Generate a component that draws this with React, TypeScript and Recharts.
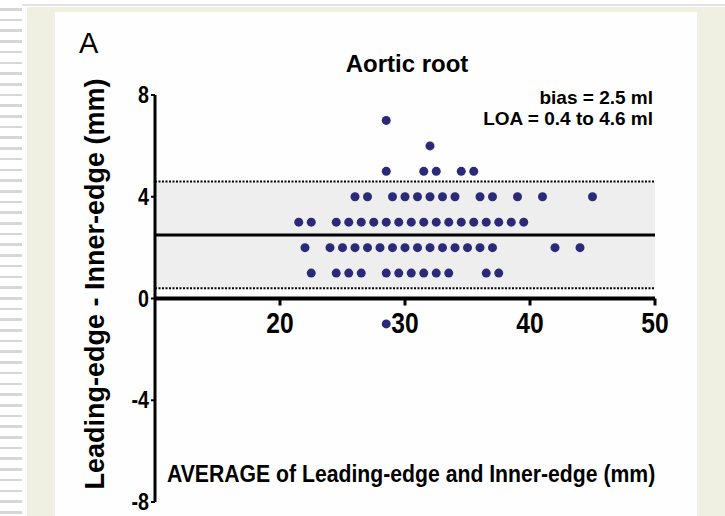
import type { ReactNode } from "react";
import {
	ScatterChart,
	Scatter,
	XAxis,
	YAxis,
	ReferenceArea,
	ReferenceLine,
	ReferenceDot,
} from "recharts";

// averages (mm) grouped by the measured difference (mm)
const avgDiff7 = [28.5];
const avgDiff6 = [32];
const avgDiff5 = [28.5, 31.5, 32.5, 34.5, 35.5];
const avgDiff4 = [26, 27, 29, 30, 31, 32, 33, 34, 36, 37, 39, 41, 45];
const avgDiff3 = [
	21.5, 22.5, 24.5, 25.5, 26.5, 27.5, 28.5, 29.5, 30.5, 31.5, 32.5, 33.5, 34.5,
	35.5, 36.5, 37.5, 38.5, 39.5,
];
const avgDiff2 = [
	22, 24, 25, 26, 27, 28, 29, 30, 31, 32, 33, 34, 35, 36, 37, 42, 44,
];
const avgDiff1 = [
	22.5, 24.5, 25.5, 26.5, 28.5, 29.5, 30.5, 31.5, 32.5, 33.5, 36.5, 37.5,
];
const avgDiffMinus1 = [28.5];

const diffLevels = [7, 6, 5, 4, 3, 2, 1, -1];
const avgRows = [
	avgDiff7,
	avgDiff6,
	avgDiff5,
	avgDiff4,
	avgDiff3,
	avgDiff2,
	avgDiff1,
	avgDiffMinus1,
];

const bias = 2.5;
const loaLow = 0.4;
const loaHigh = 4.6;

const xTicks = [20, 30, 40, 50];
const yTicks = [-8, -4, 0, 4, 8];

const points = diffLevels.flatMap((d, i) => avgRows[i].map((a) => ({ x: a, y: d })));

const FONT = "'Liberation Sans', Arial, sans-serif";
const DOT = "#2b2a78";
// the original uses a condensed face; squeeze Liberation Sans horizontally
const SQUEEZE = 0.82;

const XTick = (props: { cx?: number; cy?: number; value: number }): ReactNode => {
	const { cx = 0, cy = 0, value } = props;
	return (
		<g>
			<line x1={cx} y1={cy} x2={cx} y2={cy + 7} stroke="#000" strokeWidth={3} />
			<text
				transform={`translate(${cx},${cy + 34}) scale(${SQUEEZE},1)`}
				textAnchor="middle"
				fontFamily={FONT}
				fontWeight="bold"
				fontSize={30}
				fill="#000"
			>
				{value}
			</text>
		</g>
	);
};

const YTick = (props: {
	x?: number;
	y?: number;
	payload?: { value: number };
}): ReactNode => {
	const { x = 0, y = 0, payload } = props;
	return (
		<text
			transform={`translate(${x},${y + 8}) scale(${SQUEEZE},1)`}
			textAnchor="end"
			fontFamily={FONT}
			fontWeight="bold"
			fontSize={24}
			fill="#000"
		>
			{payload?.value}
		</text>
	);
};

const App = (): ReactNode => {
	return (
		<div
			style={{
				position: "absolute",
				left: 0,
				top: 0,
				width: 725,
				height: 516,
				background: "#ffffff",
				overflow: "hidden",
			}}
		>
			<div
				style={{
					position: "absolute",
					left: 0,
					top: 0,
					width: 22,
					height: 516,
					background:
						"repeating-linear-gradient(to bottom, #ffffff 0px, #ffffff 8px, #d6d6d6 8px, #d6d6d6 10.7px)",
				}}
			/>
			<div
				style={{
					position: "absolute",
					left: 22,
					top: 4,
					width: 703,
					height: 2,
					background: "#e2e2e2",
				}}
			/>
			<div
				style={{
					position: "absolute",
					left: 27,
					top: 7,
					width: 698,
					height: 509,
					background: "#f0f0e2",
				}}
			/>
			<div
				style={{
					position: "absolute",
					left: 55,
					top: 12,
					width: 642,
					height: 504,
					background: "#fefefe",
				}}
			/>

			<div style={{ position: "absolute", left: 0, top: 0 }}>
				<ScatterChart
					width={725}
					height={516}
					margin={{ top: 95, right: 70, bottom: 14, left: 0 }}
				>
					<XAxis type="number" dataKey="x" domain={[10, 50]} hide />
					<YAxis
						type="number"
						dataKey="y"
						domain={[-8, 8]}
						ticks={yTicks}
						interval={0}
						width={155}
						axisLine={{ stroke: "#000", strokeWidth: 3 }}
						tickLine={{ stroke: "#000", strokeWidth: 2 }}
						tickSize={4}
						tickMargin={2}
						tick={<YTick />}
						label={{
							content: () => (
								<text
									transform="translate(104,284) rotate(-90)"
									textAnchor="middle"
									fontFamily={FONT}
									fontWeight="bold"
									fontSize={27}
									fill="#000"
								>
									Leading-edge - Inner-edge (mm)
								</text>
							),
						}}
					/>
					<ReferenceArea y1={loaLow} y2={loaHigh} fill="#eeeeee" fillOpacity={1} />
					<ReferenceLine
						y={loaHigh}
						stroke="#000"
						strokeWidth={2}
						strokeDasharray="2 1.5"
					/>
					<ReferenceLine
						y={loaLow}
						stroke="#000"
						strokeWidth={2}
						strokeDasharray="2 1.5"
					/>
					<ReferenceLine y={bias} stroke="#000" strokeWidth={3} />
					<ReferenceLine y={0} stroke="#000" strokeWidth={4} />
					{xTicks.map((t) => (
						<ReferenceDot
							key={t}
							x={t}
							y={0}
							r={0}
							shape={(p: { cx?: number; cy?: number }) => (
								<XTick cx={p.cx} cy={p.cy} value={t} />
							)}
						/>
					))}
					<Scatter
						data={points}
						isAnimationActive={false}
						shape={(p: { cx?: number; cy?: number }) => (
							<circle cx={p.cx} cy={p.cy} r={4.5} fill={DOT} />
						)}
					/>
				</ScatterChart>
			</div>

			<div
				style={{
					position: "absolute",
					left: 79,
					top: 27,
					fontFamily: FONT,
					fontSize: 29,
					color: "#000",
				}}
			>
				A
			</div>
			<div
				style={{
					position: "absolute",
					left: 307,
					top: 50,
					width: 200,
					textAlign: "center",
					fontFamily: FONT,
					fontWeight: "bold",
					fontSize: 24,
					color: "#000",
				}}
			>
				Aortic root
			</div>
			<div
				style={{
					position: "absolute",
					right: 725 - 653,
					top: 87,
					textAlign: "right",
					fontFamily: FONT,
					fontWeight: "bold",
					fontSize: 19,
					lineHeight: "21px",
					color: "#000",
				}}
			>
				<div>bias = 2.5 ml</div>
				<div>LOA = 0.4 to 4.6 ml</div>
			</div>
			<div
				style={{
					position: "absolute",
					left: 167,
					top: 460,
					whiteSpace: "nowrap",
					fontFamily: FONT,
					fontWeight: "bold",
					fontSize: 24,
					color: "#000",
					transform: "scaleX(0.883)",
					transformOrigin: "left top",
				}}
			>
				AVERAGE of Leading-edge and Inner-edge (mm)
			</div>
		</div>
	);
};

export default App;
